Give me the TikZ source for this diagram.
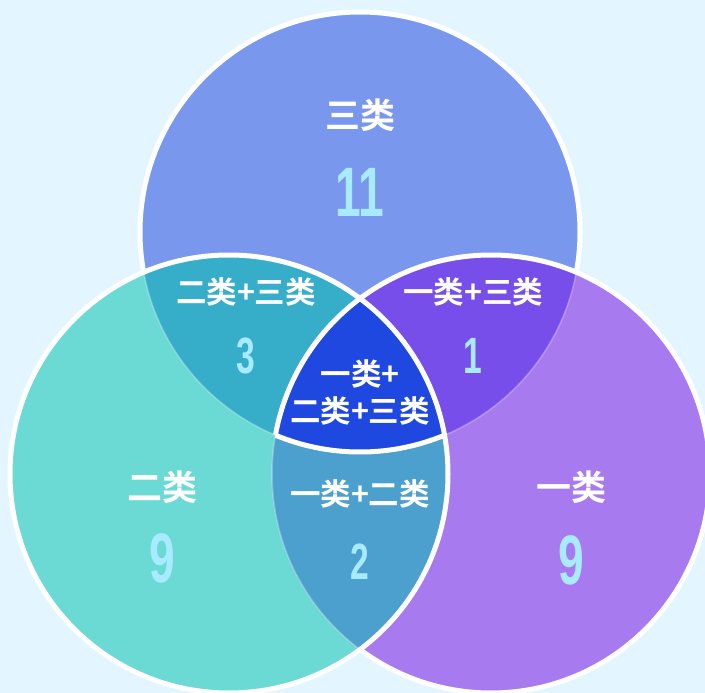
\documentclass[tikz,border=0pt]{standalone}
\usepackage{fontspec}
\setmainfont{Noto Sans CJK SC}[BoldFont=* Bold]
\newfontfamily\digits{Liberation Sans}
\definecolor{Back}{HTML}{E3F5FE}
\definecolor{TopC}{HTML}{7A97EE}
\definecolor{LeftC}{HTML}{6BD9D4}
\definecolor{RightC}{HTML}{A87AF0}
\definecolor{TopLeft}{HTML}{36AECA}
\definecolor{TopRight}{HTML}{774EE9}
\definecolor{LeftRight}{HTML}{4BA0CD}
\definecolor{Core}{HTML}{1E48E0}
\definecolor{Count}{HTML}{A8EAFF}
\newcommand\cnt[1]{\scalebox{0.66}[1]{#1}}
\tikzset{rim/.style={draw=white,line width=5pt},faint/.style={draw=white,draw opacity=0.3,line width=1.5pt},
  single/.style={text=white,inner sep=0pt,font=\bfseries\fontsize{35}{38}\selectfont},
  pair/.style={text=white,inner sep=0pt,align=center,font=\bfseries\fontsize{30.5}{37}\selectfont},
  bignum/.style={text=Count,inner sep=0pt,font=\digits\bfseries\fontsize{70}{72}\selectfont},
  smallnum/.style={text=Count,inner sep=0pt,font=\digits\bfseries\fontsize{51}{53}\selectfont}}

\begin{document}
\begin{tikzpicture}[x=1pt,y=-1pt]
\useasboundingbox (0,0) rectangle (705,693);
\fill[Back] (0,0) rectangle (705,693);
\coordinate (ctop) at (360,232);
\coordinate (cleft) at (229,474);
\coordinate (cright) at (491,474);
\def\rtop{(ctop) circle[radius=220]}
\def\rleft{(cleft) circle[radius=219]}
\def\rright{(cright) circle[radius=219]}
\fill[TopC] \rtop;
\fill[LeftC] \rleft;
\fill[RightC] \rright;
\begin{scope}\clip \rtop; \fill[TopLeft] \rleft; \fill[TopRight] \rright;\end{scope}
\begin{scope}\clip \rleft; \fill[LeftRight] \rright;\end{scope}
\begin{scope}\clip \rtop; \clip \rleft; \fill[Core] \rright;\end{scope}
\draw[faint] \rtop; \draw[faint] \rleft; \draw[faint] \rright;
\begin{scope}[even odd rule]
\clip (-10,-10) rectangle (715,703) \rleft;
\clip (-10,-10) rectangle (715,703) \rright;
\draw[rim] \rtop;
\end{scope}
\begin{scope}[even odd rule]
\clip (-10,-10) rectangle (715,703) \rleft;
\draw[rim] \rright;
\end{scope}
\draw[rim] \rleft;
\begin{scope}\clip \rtop; \clip \rleft; \draw[rim] \rright;\end{scope}
\begin{scope}\clip \rleft; \clip \rright; \draw[rim] \rtop;\end{scope}
\node[single] (lthree) at (360,115) {三类};
\node[bignum] (nthree) at (360,192) {\cnt{11}};
\node[pair] (ltwothree) at (246,292) {二类+三类};
\node[smallnum] (ntwothree) at (246,356) {\cnt{3}};
\node[pair] (lonethree) at (473,292) {一类+三类};
\node[smallnum] (nonethree) at (473,356) {\cnt{1}};
\node[pair] (lall) at (360,392) {一类+\\二类+三类};
\node[single] (ltwo) at (162,487) {二类};
\node[bignum] (ntwo) at (162,558) {\cnt{9}};
\node[pair] (lonetwo) at (360,494) {一类+二类};
\node[smallnum] (nonetwo) at (360,562) {\cnt{2}};
\node[single] (lone) at (571,487) {一类};
\node[bignum] (none) at (571,560) {\cnt{9}};
\end{tikzpicture}
\end{document}
